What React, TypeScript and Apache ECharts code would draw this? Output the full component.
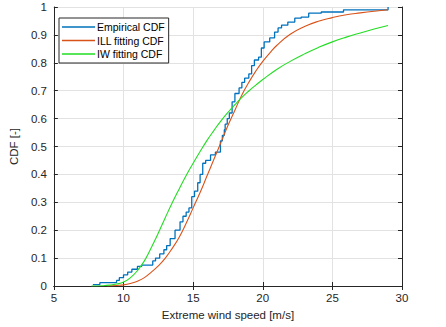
import React, { useEffect, useRef } from "react";
import * as echarts from "echarts";

const empX = [7.8, 8.3, 9.5, 9.7, 10.0, 10.3, 10.6, 11.0, 11.3, 12.1, 12.3, 12.6, 12.9, 13.1, 13.35, 13.7, 14.06, 14.27, 14.5, 14.7, 14.9, 15.1, 15.33, 15.5, 15.69, 15.9, 16.25, 16.6, 16.96, 17.1, 17.24, 17.3, 17.45, 17.6, 17.8, 18.0, 18.3, 18.5, 18.7, 19.0, 19.2, 19.4, 19.7, 19.9, 20.1, 20.5, 20.85, 21.1, 21.35, 21.8, 22.3, 22.76, 23.3, 24.2, 25.8, 29.0];
const empY = [0.005, 0.012, 0.02, 0.03, 0.04, 0.05, 0.06, 0.07, 0.075, 0.09, 0.10, 0.115, 0.13, 0.145, 0.17, 0.20, 0.23, 0.25, 0.265, 0.28, 0.32, 0.34, 0.37, 0.40, 0.44, 0.45, 0.47, 0.48, 0.52, 0.54, 0.56, 0.58, 0.60, 0.62, 0.66, 0.69, 0.71, 0.73, 0.745, 0.76, 0.79, 0.81, 0.82, 0.853, 0.875, 0.889, 0.91, 0.925, 0.935, 0.946, 0.96, 0.964, 0.978, 0.982, 0.99, 1.0];

const illX = [8.8, 9.5, 10, 10.5, 11, 11.5, 12, 12.5, 13, 13.5, 14, 14.5, 15, 15.5, 16, 16.5, 17, 17.5, 18, 18.5, 19, 19.5, 20, 20.5, 21, 22, 23, 24, 25, 26, 27, 28, 29];
const illY = [0, 0.002, 0.004, 0.009, 0.017, 0.03, 0.05, 0.072, 0.1, 0.135, 0.175, 0.225, 0.28, 0.335, 0.395, 0.455, 0.515, 0.575, 0.63, 0.685, 0.73, 0.77, 0.805, 0.835, 0.862, 0.903, 0.93, 0.949, 0.962, 0.972, 0.979, 0.985, 0.99];

const iwX = [7.7, 8.5, 9, 9.5, 10, 10.5, 11, 11.5, 12, 12.5, 13, 13.5, 14, 14.5, 15, 15.5, 16, 16.5, 17, 17.5, 18, 18.5, 19, 19.5, 20, 21, 22, 23, 24, 25, 26, 27, 28, 29];
const iwY = [0, 0.001, 0.003, 0.007, 0.014, 0.03, 0.055, 0.09, 0.138, 0.19, 0.245, 0.298, 0.348, 0.396, 0.44, 0.482, 0.522, 0.558, 0.592, 0.622, 0.65, 0.676, 0.699, 0.72, 0.74, 0.776, 0.806, 0.832, 0.855, 0.875, 0.892, 0.907, 0.921, 0.934];

const seriesNames = ["Empirical CDF", "ILL fitting CDF", "IW fitting CDF"];
const colors = ["#0072BD", "#D95319", "#22dd22"];

const pairs = (xs: number[], ys: number[]) => xs.map((x, i) => [x, ys[i]]);

const FONT = "Liberation Sans, Arial, sans-serif";
const AX = "#262626";

export default function App() {
  const ref = useRef<HTMLDivElement>(null);
  useEffect(() => {
    if (!ref.current) return;
    const chart = echarts.init(ref.current, undefined, { renderer: "svg" });
    const baseX = { type: "value", min: 5, max: 30, interval: 5 };
    const baseY = { type: "value", min: 0, max: 1, interval: 0.1 };
    chart.setOption({
      animation: false,
      textStyle: { fontFamily: FONT },
      grid: { left: 49, right: 44, top: 7, bottom: 41, containLabel: false },
      legend: {
        orient: "vertical",
        left: 59,
        top: 18,
        data: seriesNames,
        icon: "rect",
        itemWidth: 33,
        itemHeight: 1.5,
        itemGap: 1.5,
        padding: [3, 4, 3, 3],
        backgroundColor: "#ffffff",
        borderColor: AX,
        borderWidth: 1,
        borderRadius: 0,
        textStyle: { fontSize: 10.5, color: "#000", lineHeight: 12, fontFamily: FONT, padding: [0, 0, 0, -3] },
      },
      xAxis: [
        {
          ...baseX,
          position: "bottom",
          name: "Extreme wind speed [m/s]",
          nameLocation: "middle",
          nameGap: 21,
          nameTextStyle: { fontSize: 11.5, color: AX, fontFamily: FONT },
          axisLine: { show: true, lineStyle: { color: AX, width: 1 } },
          axisTick: { show: true, inside: true, length: 4, lineStyle: { color: AX } },
          axisLabel: { fontSize: 11.5, color: AX, margin: 6, fontFamily: FONT },
          splitLine: { show: true, lineStyle: { color: "#e2e2e2", width: 1 } },
        },
        {
          ...baseX,
          position: "top",
          axisLine: { show: true, lineStyle: { color: AX, width: 1 } },
          axisTick: { show: true, inside: true, length: 4, lineStyle: { color: AX } },
          axisLabel: { show: false },
          splitLine: { show: false },
        },
      ],
      yAxis: [
        {
          ...baseY,
          position: "left",
          name: "CDF [-]",
          nameLocation: "middle",
          nameGap: 17,
          nameTextStyle: { fontSize: 11.5, color: AX, fontFamily: FONT },
          axisLine: { show: true, lineStyle: { color: AX, width: 1 } },
          axisTick: { show: true, inside: true, length: 4, lineStyle: { color: AX } },
          axisLabel: { fontSize: 11.5, color: AX, margin: 7, fontFamily: FONT, formatter: (v: number) => String(Math.round(v * 10) / 10) },
          splitLine: { show: true, lineStyle: { color: "#e2e2e2", width: 1 } },
        },
        {
          ...baseY,
          position: "right",
          axisLine: { show: true, lineStyle: { color: AX, width: 1 } },
          axisTick: { show: true, inside: true, length: 4, lineStyle: { color: AX } },
          axisLabel: { show: false },
          splitLine: { show: false },
        },
      ],
      series: [
        {
          name: seriesNames[0],
          type: "line",
          step: "end",
          data: pairs(empX, empY),
          showSymbol: false,
          symbol: "none",
          lineStyle: { color: colors[0], width: 1.3 },
          itemStyle: { color: colors[0] },
          z: 3,
        },
        {
          name: seriesNames[1],
          type: "line",
          smooth: true,
          data: pairs(illX, illY),
          showSymbol: false,
          symbol: "none",
          lineStyle: { color: colors[1], width: 1.1 },
          itemStyle: { color: colors[1] },
          z: 4,
        },
        {
          name: seriesNames[2],
          type: "line",
          smooth: true,
          data: pairs(iwX, iwY),
          showSymbol: false,
          symbol: "none",
          lineStyle: { color: colors[2], width: 1.1 },
          itemStyle: { color: colors[2] },
          z: 5,
        },
      ],
    });
    return () => chart.dispose();
  }, []);
  return <div ref={ref} style={{ width: 446, height: 327, position: "absolute", left: 0, top: 0, background: "#fff" }} />;
}
